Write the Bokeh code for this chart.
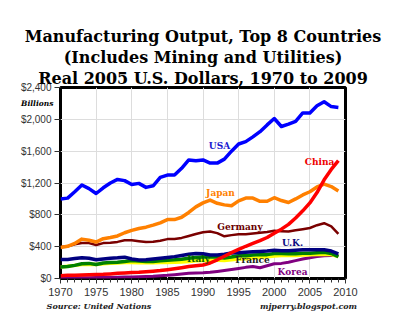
from bokeh.plotting import figure
from bokeh.models import (Label, Title, LinearAxis, FixedTicker, SingleIntervalTicker,
                          NumeralTickFormatter)
from bokeh.embed import file_html
from bokeh.resources import INLINE

years = list(range(1970, 2010))

usa = [1000, 1010, 1090, 1175, 1130, 1068, 1140, 1200, 1245, 1230,
       1180, 1195, 1145, 1165, 1270, 1300, 1300, 1385, 1490, 1480,
       1490, 1450, 1450, 1500, 1600, 1690, 1720, 1780, 1845, 1930,
       2010, 1910, 1940, 1975, 2080, 2080, 2170, 2220, 2160, 2150]
japan = [390, 405, 440, 495, 480, 458, 500, 515, 535, 575,
         605, 628, 645, 670, 700, 740, 740, 770, 830, 900,
         950, 985, 945, 925, 915, 975, 1010, 1010, 970, 970,
         1015, 980, 955, 1000, 1050, 1090, 1150, 1185, 1155, 1100]
china = [35, 40, 42, 45, 47, 50, 52, 58, 65, 70,
         75, 78, 85, 92, 100, 110, 122, 135, 150, 160,
         170, 195, 235, 280, 325, 365, 405, 440, 475, 515,
         570, 620, 680, 760, 850, 950, 1080, 1240, 1370, 1480]
germany = [395, 405, 430, 445, 445, 420, 445, 450, 460, 480,
           480, 468, 458, 462, 475, 495, 495, 510, 535, 560,
           580, 590, 570, 530, 545, 555, 555, 565, 575, 585,
           600, 595, 590, 605, 620, 635, 670, 695, 655, 560]
uk = [240, 240, 250, 262, 255, 235, 245, 255, 260, 268,
      245, 232, 235, 245, 255, 265, 275, 290, 305, 315,
      310, 295, 295, 305, 320, 325, 330, 335, 340, 345,
      355, 350, 350, 355, 360, 360, 360, 360, 345, 310]
italy = [145, 150, 165, 185, 190, 175, 195, 200, 205, 215,
         225, 220, 215, 215, 222, 230, 235, 242, 255, 265,
         270, 272, 270, 258, 270, 285, 285, 295, 300, 300,
         315, 315, 312, 310, 318, 318, 325, 330, 315, 275]
france = [145, 155, 165, 175, 180, 175, 185, 192, 195, 200,
          200, 198, 198, 198, 200, 202, 205, 208, 215, 222,
          225, 228, 230, 225, 235, 245, 248, 255, 265, 272,
          282, 288, 290, 290, 295, 298, 302, 305, 300, 275]
korea = [5, 6, 8, 9, 10, 11, 12, 14, 16, 18,
         19, 21, 24, 28, 35, 40, 48, 57, 65, 70,
         72, 78, 88, 100, 112, 125, 140, 150, 135, 160,
         185, 190, 205, 225, 245, 260, 275, 285, 290, 290]

series_names = ["Korea", "France", "Italy", "U.K.", "Germany", "Japan", "China", "USA"]
series_values = [korea, france, italy, uk, germany, japan, china, usa]
series_colors = ["#800080", "#ffff00", "#008000", "#000080", "#7a0000", "#ff8000", "#ff0000", "#0000ff"]
series_widths = [3, 3.5, 3.5, 3.5, 2.5, 3.5, 3.5, 3.5]

y_ticks = [0, 400, 800, 1200, 1600, 2000, 2400]
title_lines = ["Manufacturing Output, Top 8 Countries",
               "(Includes Mining and Utilities)",
               "Real 2005 U.S. Dollars, 1970 to 2009"]
unit_text = "Billions"
source_text = "Source: United Nations"
credit_text = "mjperry.blogspot.com"

# layout constants (pixels)
W, H = 400, 327
L, R, T, B = 60, 55, 87, 49
fw, fh = W - L - R, H - T - B
X0, X1, Y0, Y1 = 1970, 2010, 0, 2400


def dx(px):
    return X0 + (px - L) * (X1 - X0) / fw


def dy(py):
    return Y0 + (H - B - py) * (Y1 - Y0) / fh


p = figure(width=W, height=H, x_range=(X0, X1), y_range=(Y0, Y1),
           output_backend="svg", toolbar_location=None, title=None,
           min_border_left=L, min_border_right=R, min_border_top=T, min_border_bottom=B)
p.background_fill_color = "white"
p.border_fill_color = "white"
p.outline_line_color = "black"
p.outline_line_width = 3

for name, vals, col, w in zip(series_names, series_values, series_colors, series_widths):
    p.line(years, vals, line_color=col, line_width=w, line_join="round")

# axes
xa = p.xaxis[0]
xa.ticker = SingleIntervalTicker(interval=5, num_minor_ticks=5)
xa.axis_line_color = None
xa.major_tick_in = 0
xa.major_tick_out = 5
xa.minor_tick_in = 0
xa.minor_tick_out = 4
xa.major_tick_line_color = "#333333"
xa.minor_tick_line_color = "#333333"
xa.major_label_text_font = "Liberation Sans"
xa.major_label_text_font_size = "11px"
xa.major_label_text_color = "#333333"
xa.major_label_standoff = 4

ya = p.yaxis[0]
ya.ticker = FixedTicker(ticks=y_ticks)
ya.formatter = NumeralTickFormatter(format="$0,0")
ya.axis_line_color = None
ya.major_tick_in = 0
ya.major_tick_out = 6
ya.minor_tick_line_color = None
ya.major_tick_line_color = "#333333"
ya.major_label_text_font = "Liberation Sans"
ya.major_label_text_font_size = "10px"
ya.major_label_text_color = "#333333"
ya.major_label_standoff = 3

p.xgrid.ticker = SingleIntervalTicker(interval=5)
p.grid.grid_line_color = "#dddddd"
p.grid.grid_line_width = 1

serif = "DejaVu Serif"

# "Billions" unit label: an extra left axis carrying a single label
unit_pos = 2200
ua = LinearAxis(ticker=FixedTicker(ticks=[unit_pos], minor_ticks=[]),
                major_label_overrides={unit_pos: unit_text},
                axis_line_color=None, major_tick_line_color=None, minor_tick_line_color=None,
                major_tick_in=0, major_tick_out=0,
                major_label_standoff=-36,
                major_label_text_font=serif, major_label_text_font_style="bold italic",
                major_label_text_font_size="7.5px", major_label_text_color="black")
p.add_layout(ua, "left")

# source / credit line: an extra bottom axis carrying two labels
src_pos, credit_pos = round(dx(98.5), 2), round(dx(308), 2)
sa = LinearAxis(ticker=FixedTicker(ticks=[src_pos, credit_pos], minor_ticks=[]),
                major_label_overrides={src_pos: source_text, credit_pos: credit_text},
                axis_line_color=None, major_tick_line_color=None, minor_tick_line_color=None,
                major_tick_in=0, major_tick_out=0, major_label_standoff=2,
                major_label_text_font=serif, major_label_text_font_style="bold italic",
                major_label_text_font_size="8px", major_label_text_color="#222222")
p.add_layout(sa, "below")

# empty axis above the frame: a gap between the frame and the title block
gap = LinearAxis(ticker=FixedTicker(ticks=[], minor_ticks=[]),
                 axis_line_color=None, major_tick_line_color=None, minor_tick_line_color=None,
                 major_tick_in=0, major_tick_out=8, minor_tick_out=0, major_label_standoff=0)
p.add_layout(gap, "above")

# title lines (added bottom-up: later titles stack further from the frame)
for txt in reversed(title_lines):
    p.add_layout(Title(text=txt, align="center", text_font=serif, text_font_style="bold",
                       text_font_size="16px", text_color="black", text_line_height=1.0,
                       standoff=0, offset=0), "above")

# series labels
label_specs = [
    ("USA", 219, 145, "#1a1ad0"),
    ("China", 319, 161, "#ee0000"),
    ("Japan", 220, 192, "#ff8000"),
    ("Germany", 239.5, 226, "#6a0000"),
    ("U.K.", 292, 242, "#0a0a80"),
    ("Italy", 198, 258.5, "#006000"),
    ("France", 252, 259.5, "#222222"),
    ("Korea", 292, 271, "#800080"),
]
for txt, px, py, col in label_specs:
    p.add_layout(Label(x=dx(px), y=dy(py), text=txt, text_font=serif, text_font_style="bold",
                       text_font_size="9px", text_color=col, text_align="center",
                       text_baseline="middle"))

open("out.html", "w").write(file_html(p, INLINE))
